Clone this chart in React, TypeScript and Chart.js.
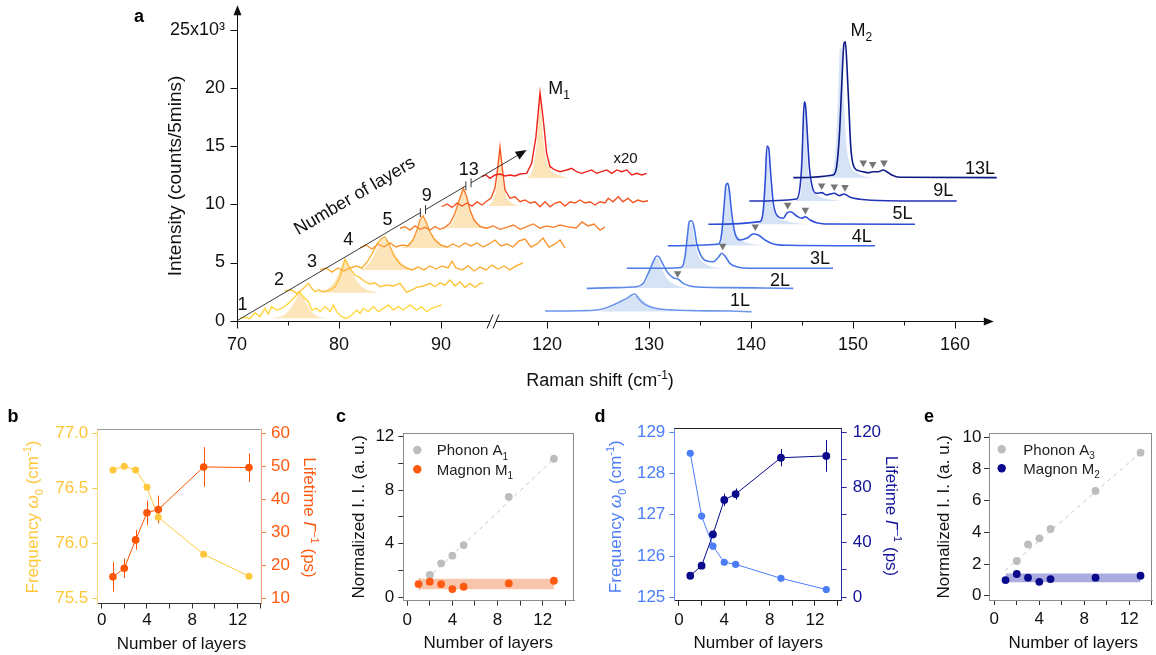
import React, { useEffect, useRef } from 'react';
import { Chart, registerables } from 'chart.js';

Chart.register(...registerables);

const FONT = '"Liberation Sans", Arial, Helvetica, sans-serif';
Chart.defaults.font.family = FONT;
const PAGE_W = 1156;
const PAGE_H = 655;

type Pt = [number, number];
type Seg = { t: string; sub?: boolean; sup?: boolean; it?: boolean; b?: boolean };

/* ====================== panel a : Raman waterfall ====================== */
// the drawn x axis is broken between 90 and 120 cm-1: values above the break are shifted by BREAK_SHIFT
const BREAK_SHIFT = 19.6;
const toAxis = (r: number) => (r > 100 ? r - BREAK_SHIFT : r);
const toReal = (v: number) => (v > 95.5 ? v + BREAK_SHIFT : v);
const A_X_TICKS = [70, 75, 80, 85, 90, 120, 125, 130, 135, 140, 145, 150, 155, 160];
const A_Y_TICKS = [0, 5, 10, 15, 20, 25];
const LAYER_NAMES = ['1', '2', '3', '4', '5', '9', '13'];
const BLUE_NAMES = ['1L', '2L', '3L', '4L', '5L', '9L', '13L'];

// low-frequency (M1) spectra, x = position on the drawn axis, y = 10^3 counts (with waterfall offset)
const SPEC_O1: Pt[] = [[70.29,0.20],[70.78,0.29],[71.27,0.20],[71.76,0.69],[72.25,0.35],[72.75,1.06],[73.07,0.58],[73.40,1.21],[73.89,0.92],[74.38,1.06],[74.87,1.35],[75.36,1.78],[75.85,2.21],[76.18,2.41],[76.50,2.06],[76.99,1.63],[77.32,0.92],[77.81,1.06],[78.14,0.78],[78.63,1.21],[79.12,0.78],[79.44,1.35],[79.77,0.78],[80.26,0.35],[80.75,0.20],[81.24,0.49],[81.73,0.92],[82.06,0.63],[82.39,1.06],[82.88,0.78],[83.37,1.21],[83.86,0.78],[84.35,1.06],[84.84,1.35],[85.33,0.92],[85.82,1.21],[86.31,0.92],[86.96,1.35],[87.61,0.92],[88.10,1.21],[88.59,0.78],[89.08,1.06],[89.58,1.21],[90.07,1.35]];
const SPEC_O2: Pt[] = [[74.71,2.58],[75.36,2.64],[75.85,2.35],[76.34,2.64],[76.67,2.92],[76.99,3.21],[77.32,2.78],[77.65,2.49],[77.97,2.64],[78.46,2.49],[79.12,2.64],[79.61,2.92],[80.10,3.78],[80.59,5.27],[81.08,4.50],[81.57,3.90],[82.06,3.70],[82.55,3.35],[83.04,3.15],[83.53,3.26],[84.02,2.92],[84.67,3.06],[85.33,2.98],[85.98,3.21],[86.63,2.45],[87.12,2.62],[87.61,2.86],[88.27,2.98],[88.92,3.21],[89.41,2.92],[89.90,3.26],[90.39,3.06],[90.88,3.49],[91.37,2.98],[91.86,3.35],[92.35,2.86],[92.84,3.21],[93.33,2.86],[93.82,3.21],[94.15,3.21]];
const SPEC_O3: Pt[] = [[78.14,4.36],[78.73,4.53],[79.31,4.18],[79.90,4.53],[80.49,4.27],[81.08,4.53],[81.67,4.70],[82.25,4.53],[82.75,5.04],[83.24,5.73],[83.73,6.59],[84.22,7.10],[84.51,7.19],[84.90,6.59],[85.39,5.56],[85.98,4.87],[86.57,4.53],[87.16,4.36],[87.75,4.61],[88.33,4.36],[88.92,4.70],[89.51,4.44],[90.10,4.70],[90.69,4.53],[91.08,5.12],[91.47,4.53],[92.06,4.36],[92.65,4.70],[93.24,4.27],[93.82,4.61],[94.41,4.36],[95.00,4.78],[95.59,4.44],[96.18,4.70],[96.76,4.36],[97.35,4.70],[98.04,4.96]];
const SPEC_O4: Pt[] = [[82.06,6.25],[82.65,6.50],[83.24,6.16],[83.82,6.59],[84.41,6.33],[85.00,6.68],[85.59,6.33],[86.18,6.50],[86.76,6.42],[87.25,6.93],[87.65,7.79],[87.94,8.65],[88.24,9.00],[88.53,8.48],[88.92,7.62],[89.41,6.93],[90.00,6.50],[90.59,6.33],[91.18,6.59],[91.76,6.33],[92.35,6.68],[92.94,6.42],[93.53,6.68],[94.12,6.33],[94.71,6.59],[95.29,6.93],[95.88,6.42],[96.47,6.59],[97.06,6.33],[97.65,6.85],[98.24,7.02],[98.82,6.33],[99.41,6.59],[100.00,7.10],[100.59,6.33],[101.18,6.59],[101.67,6.93],[102.16,6.25]];
const SPEC_O5: Pt[] = [[85.98,7.94],[86.47,8.08],[86.96,7.79],[87.45,8.14],[87.94,7.85],[88.43,8.02],[88.92,7.79],[89.41,8.08],[89.90,7.85],[90.39,8.02],[90.88,8.37],[91.37,9.23],[91.79,10.37],[92.19,11.37],[92.52,10.65],[92.84,9.51],[93.24,8.65],[93.82,8.08],[94.48,7.94],[95.13,8.14],[95.78,7.85],[96.44,8.02],[97.09,8.22],[97.75,7.85],[98.40,8.08],[99.05,8.31],[99.71,7.94],[100.36,8.14],[101.01,8.02],[101.67,8.22],[102.32,8.08],[103.24,7.96],[103.82,8.48],[104.41,8.14],[105.00,8.31],[105.59,7.79],[106.08,8.05]];
const SPEC_O9: Pt[] = [[90.07,9.79],[90.59,10.03],[91.08,9.73],[91.57,10.11],[92.06,9.85],[92.55,10.11],[93.04,9.85],[93.53,10.20],[94.02,9.94],[94.51,10.28],[94.90,10.54],[95.29,11.40],[95.54,12.95],[95.78,14.90],[96.03,12.95],[96.27,11.23],[96.76,10.52],[97.25,10.65],[97.75,10.22],[98.24,10.37],[98.73,10.11],[99.22,10.22],[99.71,9.79],[100.20,10.22],[100.69,9.79],[101.18,10.11],[101.67,10.22],[102.16,9.85],[102.65,10.22],[103.14,10.11],[103.63,10.37],[104.12,10.11],[104.61,10.22],[105.10,9.94],[105.59,10.22],[106.08,10.11],[106.40,10.52],[106.86,10.22],[107.38,10.65],[107.84,10.22],[108.33,10.52],[108.82,10.14],[109.31,10.37],[109.80,10.22],[110.29,10.31]];
const SPEC_O13: Pt[] = [[93.99,12.37],[94.41,12.52],[94.80,12.23],[95.29,12.52],[95.78,12.60],[96.27,12.43],[96.76,12.52],[97.25,12.43],[97.75,12.60],[98.40,12.66],[98.89,13.52],[99.31,15.81],[99.71,19.59],[100.03,17.24],[100.36,14.38],[100.69,13.23],[101.18,12.95],[101.67,12.80],[102.32,12.95],[102.81,13.09],[103.30,12.80],[103.79,12.66],[104.28,12.80],[104.77,12.95],[105.26,12.66],[105.75,12.80],[106.24,12.95],[106.74,12.66],[107.23,12.95],[107.72,12.80],[108.21,12.95],[108.70,12.52],[109.19,12.66],[109.68,12.52],[110.17,12.66]];

// M1 fitted peaks (shaded)
const FIT_O1: Pt[] = [[73.56,0.29],[74.54,0.49],[75.20,1.06],[75.69,1.78],[76.01,2.27],[76.24,2.35],[76.50,2.06],[76.83,1.49],[77.32,0.78],[77.97,0.40],[78.79,0.26],[79.77,0.20]];
const FIT_O2: Pt[] = [[77.48,2.41],[78.79,2.69],[79.61,3.49],[80.10,4.50],[80.49,5.21],[80.75,5.21],[81.14,4.50],[81.73,3.49],[82.39,2.86],[83.37,2.55],[84.02,2.41]];
const FIT_O3: Pt[] = [[81.57,4.36],[82.55,4.61],[83.24,5.38],[83.82,6.42],[84.31,7.02],[84.71,7.02],[85.20,6.25],[85.78,5.38],[86.47,4.78],[87.45,4.44],[88.92,4.36]];
const FIT_O4: Pt[] = [[85.49,6.25],[86.47,6.42],[87.16,6.93],[87.75,7.96],[88.04,8.74],[88.43,8.74],[88.82,7.96],[89.41,7.10],[90.10,6.59],[91.08,6.33],[92.84,6.25]];
const FIT_O5: Pt[] = [[89.90,7.96],[90.88,8.22],[91.37,9.08],[91.76,10.20],[92.06,11.14],[92.35,11.14],[92.65,10.20],[93.04,9.08],[93.63,8.39],[94.61,8.05],[96.27,7.96]];
const FIT_O9: Pt[] = [[94.31,9.85],[94.80,10.03],[95.20,10.71],[95.49,12.26],[95.69,14.49],[95.88,14.49],[96.08,12.26],[96.37,10.80],[96.76,10.28],[97.55,9.94],[98.73,9.85]];
const FIT_O13: Pt[] = [[97.94,12.26],[98.73,12.52],[99.12,13.81],[99.41,15.96],[99.61,19.13],[99.80,19.13],[100.00,16.38],[100.29,14.23],[100.69,13.12],[101.67,12.52],[103.14,12.26],[104.12,12.26]];
const FIT_O_BASE = [0.20, 2.41, 4.36, 6.25, 7.96, 9.85, 12.26];

// high-frequency (M2) spectra, x on the drawn axis (beyond the break)
const SPEC_B1: Pt[] = [[100.20,0.83],[101.99,0.83],[103.63,0.86],[105.26,0.92],[106.25,1.12],[106.89,1.35],[107.55,1.63],[108.21,1.92],[108.70,2.21],[109.02,2.29],[109.34,1.92],[109.83,1.49],[110.49,1.20],[111.47,1.01],[112.77,0.92],[115.07,0.86],[118.33,0.83],[120.46,0.77]];
const SPEC_B2: Pt[] = [[104.28,2.78],[106.89,2.84],[109.19,2.92],[109.83,3.21],[110.32,4.07],[110.81,5.07],[111.15,5.56],[111.40,5.45],[111.79,4.79],[112.28,4.07],[112.77,3.69],[113.26,3.56],[113.75,3.21],[114.41,2.98],[115.72,2.87],[118.33,2.84],[121.60,2.81],[124.54,2.78]];
const SPEC_B3: Pt[] = [[108.21,4.50],[111.79,4.50],[113.60,4.59],[113.92,5.50],[114.15,7.22],[114.34,8.51],[114.58,8.59],[114.80,8.08],[115.07,6.65],[115.46,5.64],[116.05,5.13],[116.70,5.07],[117.19,5.45],[117.52,5.79],[117.84,5.56],[118.33,4.93],[118.99,4.64],[120.29,4.50],[128.43,4.50]];
const SPEC_B4: Pt[] = [[112.23,6.44],[117.19,6.59],[117.52,7.51],[117.75,9.79],[117.94,11.66],[118.11,11.80],[118.26,11.23],[118.50,9.23],[118.82,7.51],[119.31,6.93],[119.97,7.08],[120.62,7.45],[121.11,7.36],[121.76,6.93],[122.58,6.59],[123.89,6.48],[132.55,6.44]];
const SPEC_B5: Pt[] = [[116.21,8.28],[121.27,8.51],[121.60,9.51],[121.79,12.09],[121.96,15.01],[122.13,14.81],[122.32,12.66],[122.58,10.09],[123.07,8.93],[123.56,8.80],[123.89,9.23],[124.28,9.36],[124.87,8.99],[125.36,8.80],[125.72,8.93],[126.18,8.65],[126.83,8.42],[128.14,8.31],[136.47,8.28]];
const SPEC_B9: Pt[] = [[120.23,10.28],[124.87,10.46],[125.20,11.51],[125.39,13.81],[125.52,17.24],[125.62,18.81],[125.75,18.38],[125.91,16.10],[126.11,13.23],[126.44,11.37],[126.83,10.95],[127.32,11.00],[127.81,10.80],[128.56,10.95],[129.05,10.74],[129.51,10.89],[130.10,10.60],[131.08,10.43],[133.70,10.31],[140.56,10.28]];
const SPEC_B13: Pt[] = [[124.54,12.29],[128.46,12.52],[128.79,13.23],[129.05,15.81],[129.28,20.10],[129.51,23.83],[129.64,23.97],[129.77,22.40],[129.97,18.68],[130.17,14.95],[130.42,13.38],[130.91,12.89],[131.40,12.80],[131.89,12.71],[132.38,12.80],[132.87,12.80],[133.36,12.95],[133.70,12.80],[134.19,12.52],[135.00,12.32],[144.48,12.29]];

const FIT_B1: Pt[] = [[105.26,0.79],[106.25,1.01],[107.23,1.43],[108.21,1.91],[108.82,2.16],[109.22,2.16],[109.80,1.78],[110.49,1.35],[111.47,1.01],[112.94,0.83],[114.41,0.79]];
const FIT_B2: Pt[] = [[106.86,2.81],[109.19,2.90],[110.00,3.32],[110.49,4.36],[110.98,5.39],[111.27,5.39],[111.67,4.53],[112.16,3.67],[112.94,3.15],[114.41,2.85],[117.35,2.81]];
const FIT_B3: Pt[] = [[111.47,4.48],[113.43,4.61],[113.82,5.39],[114.12,6.93],[114.36,8.31],[114.61,8.31],[114.90,6.93],[115.29,5.56],[115.88,4.96],[116.86,4.61],[118.82,4.48]];
const FIT_B4: Pt[] = [[115.88,6.46],[117.16,6.59],[117.45,7.28],[117.75,9.51],[117.94,11.40],[118.24,11.40],[118.43,9.51],[118.73,7.96],[119.31,7.10],[120.29,6.67],[122.25,6.46]];
const FIT_B5: Pt[] = [[120.78,8.31],[121.27,8.48],[121.57,9.34],[121.76,11.66],[121.91,14.66],[122.11,14.66],[122.25,12.52],[122.45,10.37],[122.84,9.17],[123.73,8.65],[125.20,8.39],[126.67,8.28]];
const FIT_B9: Pt[] = [[124.31,10.28],[125.20,10.80],[125.39,12.95],[125.54,16.81],[125.69,18.53],[125.83,16.81],[125.98,13.81],[126.27,11.66],[126.96,10.80],[128.14,10.46],[130.10,10.28]];
const FIT_B13: Pt[] = [[127.75,12.29],[128.33,12.77],[128.63,14.66],[128.87,18.96],[129.07,23.43],[129.31,23.43],[129.51,19.82],[129.75,15.52],[130.10,13.54],[130.88,12.68],[132.16,12.35],[133.63,12.29]];
const FIT_B_BASE = [0.79, 2.81, 4.48, 6.46, 8.28, 10.28, 12.29];

// grey triangles marking weak satellite peaks
const MARKERS: Pt[] = [[113.20,4.07],[117.62,6.42],[120.81,8.08],[123.99,9.94],[125.72,9.51],[127.32,11.60],[128.56,11.51],[129.61,11.46],[131.40,13.57],[132.32,13.44],[133.43,13.57]];

const LAYER_LABEL_POS: Pt[] = [[70.54,1.48],[74.12,3.63],[77.35,5.21],[80.91,7.08],[84.75,8.80],[88.60,10.80],[92.73,13.09]];
const BLUE_LABEL_POS: Pt[] = [[119.31,1.78],[123.24,3.58],[127.16,5.43],[131.25,7.32],[135.25,9.32],[139.25,11.25],[142.84,13.20]];
const LAYER_ARROW: Pt[] = [[70, 0], [98.40, 14.66]];
const LAYER_ARROW_BREAKS = [0.642, 0.799];
const LAYER_TITLE_POS: Pt = [81.47, 10.80];
const M1_LABEL_POS: Pt = [101.57, 20.07];
const M2_LABEL_POS: Pt = [131.2, 25.05];
const X20_LABEL_POS: Pt = [108.09, 13.98];

const ORANGE = ['#FFD640', '#FDC43A', '#FBAF36', '#F99830', '#F67E2A', '#F35322', '#EF1F1A'];
const BLUE = ['#6E96EB', '#5B88EA', '#4B79E8', '#3A63E3', '#2D4DD8', '#1F34B8', '#0D1A85'];

/* ====================== panels b - e ====================== */
const LAYERS = [1, 2, 3, 4, 5, 9, 13];
const PHONON_LAYERS = [2, 3, 4, 5, 9, 13];
const M1_FREQ = [76.667, 76.70, 76.667, 76.51, 76.236, 75.90, 75.70];
const M1_FREQ_ERR = [0.03, 0.025, 0.025, 0.02, 0.02, 0, 0];
const M1_LIFE = [16.5, 19.1, 27.7, 35.9, 36.9, 49.8, 49.6];
const M1_LIFE_ERR = [4.5, 3.0, 3.0, 3.7, 4.2, 6.0, 4.3];
const A1_II = [1.67, 2.54, 3.11, 3.90, 7.50, 10.34];
const M1_II = [0.99, 1.17, 0.99, 0.62, 0.79, 1.04, 1.24];
const M1_II_ERR = [0.45, 0.35, 0.1, 0.1, 0.1, 0.1, 0.1];
const A1_FIT: Pt[] = [[1.27, 0.99], [13, 10.34]];
const M1_BAND_X = [1, 13];
const M1_BAND_Y = [0.60, 1.39];
const M2_FREQ = [128.49, 126.97, 126.24, 125.85, 125.80, 125.46, 125.19];
const M2_LIFE = [15.7, 23.0, 45.8, 70.8, 75.1, 101.5, 102.8];
const M2_LIFE_ERR = [1.5, 2.5, 3.0, 4.5, 4.0, 6.3, 11.5];
const A3_II = [2.19, 3.24, 3.62, 4.21, 6.61, 9.03];
const M2_II = [0.99, 1.37, 1.14, 0.88, 1.05, 1.14, 1.26];
const A3_FIT: Pt[] = [[0.95, 1.58], [13, 9.03]];
const M2_BAND_X = [1, 13];
const M2_BAND_Y = [0.85, 1.41];
const LAYER_TICKS = [0, 2, 4, 6, 8, 10, 12, 14];

/* ====================== helpers ====================== */
function drawRich(ctx: CanvasRenderingContext2D, segs: Seg[], x: number, y: number, size: number, color: string, rot = 0, align: 'left' | 'center' | 'right' = 'center') {
  const font = (s: Seg) => `${s.it ? 'italic ' : ''}${s.b ? 'bold ' : ''}${s.sub || s.sup ? Math.round(size * 0.66) : size}px ${FONT}`;
  ctx.save();
  ctx.translate(x, y);
  if (rot) ctx.rotate(rot);
  ctx.fillStyle = color;
  ctx.textAlign = 'left';
  ctx.textBaseline = 'alphabetic';
  const widths = segs.map((s) => { ctx.font = font(s); return ctx.measureText(s.t).width; });
  const total = widths.reduce((a, b) => a + b, 0);
  let cx = align === 'center' ? -total / 2 : align === 'right' ? -total : 0;
  const base = size * 0.36;
  segs.forEach((s, i) => {
    ctx.font = font(s);
    const dy = s.sub ? size * 0.3 : s.sup ? -size * 0.42 : 0;
    ctx.fillText(s.t, cx, base + dy);
    cx += widths[i];
  });
  ctx.restore();
}

// give a scale a fixed thickness and no label overflow padding, so the plot area lands exactly where wanted
const fitFixed = (dim: 'width' | 'height', size: number) => (s: any) => {
  s[dim] = size;
  s.paddingLeft = 0; s.paddingRight = 0; s.paddingTop = 0; s.paddingBottom = 0;
};
const pts = (a: Pt[]) => a.map(([x, y]) => ({ x, y }));
const zip = (xs: number[], ys: number[]) => xs.map((x, i) => ({ x, y: ys[i] }));

const FREQ_TITLE: Seg[] = [{ t: 'Frequency ' }, { t: 'ω', it: true }, { t: '0', sub: true }, { t: ' (cm' }, { t: '-1', sup: true }, { t: ')' }];
const LIFE_TITLE: Seg[] = [{ t: 'Lifetime ' }, { t: 'Γ', it: true }, { t: '−1', sup: true }, { t: ' (ps)' }];
const II_TITLE: Seg[] = [{ t: 'Normalized I. I. (a. u.)' }];
const NL_TITLE: Seg[] = [{ t: 'Number of layers' }];

type Area = { l: number; t: number; r: number; b: number };

function baseOptions(padding: any, scales: any) {
  return {
    responsive: false,
    maintainAspectRatio: false,
    animation: false,
    devicePixelRatio: 1,
    events: [],
    layout: { padding, autoPadding: false },
    plugins: { legend: { display: false }, tooltip: { enabled: false }, title: { display: false } },
    scales,
  };
}

/* ====================== panel a config ====================== */
function panelA(): any {
  const ORANGE_SPECTRA = [SPEC_O1, SPEC_O2, SPEC_O3, SPEC_O4, SPEC_O5, SPEC_O9, SPEC_O13];
  const ORANGE_FITS = [FIT_O1, FIT_O2, FIT_O3, FIT_O4, FIT_O5, FIT_O9, FIT_O13];
  const BLUE_SPECTRA = [SPEC_B1, SPEC_B2, SPEC_B3, SPEC_B4, SPEC_B5, SPEC_B9, SPEC_B13];
  const BLUE_FITS = [FIT_B1, FIT_B2, FIT_B3, FIT_B4, FIT_B5, FIT_B9, FIT_B13];
  const datasets: any[] = [];
  ORANGE_FITS.forEach((f, i) => datasets.push({
    data: pts(f), borderColor: 'rgba(255,255,255,0.95)', borderWidth: 1, backgroundColor: '#FCE5BA',
    fill: { value: FIT_O_BASE[i] }, pointRadius: 0, cubicInterpolationMode: 'monotone', order: 400 - i,
  }));
  BLUE_FITS.forEach((f, i) => datasets.push({
    data: pts(f), borderColor: 'rgba(255,255,255,0.95)', borderWidth: 1, backgroundColor: '#D6E3F7',
    fill: { value: FIT_B_BASE[i] }, pointRadius: 0, cubicInterpolationMode: 'monotone', order: 300 - i,
  }));
  ORANGE_SPECTRA.forEach((s, i) => datasets.push({
    data: pts(s), borderColor: ORANGE[i], borderWidth: 1.4, fill: false, pointRadius: 0, tension: 0, order: 200 - i,
  }));
  BLUE_SPECTRA.forEach((s, i) => datasets.push({
    data: pts(s), borderColor: BLUE[i], borderWidth: 1.6, fill: false, pointRadius: 0, cubicInterpolationMode: 'monotone', order: 100 - i,
  }));
  datasets.push({
    data: pts(MARKERS), showLine: false, pointStyle: 'triangle', pointRotation: 180, pointRadius: 4.4,
    pointBackgroundColor: '#767676', pointBorderWidth: 0, order: 0,
  });

  const area: Area = { l: 237, t: 320.7 - 27.3 * 11.64, r: 1002, b: 320.7 };
  const scales = {
    x: {
      type: 'linear', position: 'bottom', min: 70, max: 145, bounds: 'data',
      afterFit: fitFixed('height', PAGE_H - area.b),
      afterBuildTicks: (s: any) => { s.ticks = A_X_TICKS.map((r) => ({ value: toAxis(r) })); },
      grid: { display: false, drawTicks: false }, border: { display: false },
      ticks: {
        padding: 13.5, color: '#111', font: { family: FONT, size: 18 }, autoSkip: false, maxRotation: 0, minRotation: 0,
        callback: (v: number) => { const r = Math.round(toReal(v)); return r % 10 === 0 ? String(r) : ''; },
      },
    },
    y: {
      type: 'linear', position: 'left', min: 0, max: 27.3, bounds: 'data',
      afterFit: fitFixed('width', area.l),
      afterBuildTicks: (s: any) => { s.ticks = A_Y_TICKS.map((v) => ({ value: v })); },
      grid: { display: false, drawTicks: false }, border: { display: false },
      ticks: { padding: 12, color: '#111', font: { family: FONT, size: 18 }, callback: (v: number) => (v === 25 ? '25x10³' : String(v)) },
    },
  };

  const decor = {
    id: 'panelADecor',
    afterDraw(chart: any) {
      const ctx = chart.ctx as CanvasRenderingContext2D;
      const xs = chart.scales.x, ys = chart.scales.y;
      const X = (v: number) => xs.getPixelForValue(v);
      const Y = (v: number) => ys.getPixelForValue(v);
      const seg = (x1: number, y1: number, x2: number, y2: number) => { ctx.beginPath(); ctx.moveTo(x1, y1); ctx.lineTo(x2, y2); ctx.stroke(); };
      const tri = (a: number, b: number, c: number, d: number, e: number, f: number) => { ctx.beginPath(); ctx.moveTo(a, b); ctx.lineTo(c, d); ctx.lineTo(e, f); ctx.closePath(); ctx.fill(); };
      ctx.save();
      ctx.strokeStyle = '#111'; ctx.fillStyle = '#111'; ctx.lineWidth = 1;
      const ox = Math.round(X(70)) + 0.5, oy = Math.round(Y(0)) + 0.5;
      // y axis with arrow
      const yTip = Y(27.1);
      seg(ox, oy, ox, yTip + 8);
      tri(ox, yTip, ox - 4, yTip + 10, ox + 4, yTip + 10);
      // x axis with break and arrow
      const xTip = X(144.2);
      const bx = X(95.1);
      seg(ox, oy, bx - 3, oy); seg(bx + 3, oy, xTip - 8, oy);
      tri(xTip, oy, xTip - 10, oy - 4, xTip - 10, oy + 4);
      [-3, 3].forEach((d) => seg(bx + d - 3, oy + 7, bx + d + 3, oy - 7));
      A_X_TICKS.forEach((r) => { const x = Math.round(X(toAxis(r))) + 0.5; seg(x, oy, x, oy + (r % 10 === 0 ? 7 : 4)); });
      A_Y_TICKS.forEach((v) => { const y = Math.round(Y(v)) + 0.5; seg(ox - 7, y, ox, y); });

      // number-of-layers arrow
      ctx.lineWidth = 0.9; ctx.strokeStyle = '#222'; ctx.fillStyle = '#111';
      const a0x = X(LAYER_ARROW[0][0]), a0y = Y(LAYER_ARROW[0][1]);
      const a1x = X(LAYER_ARROW[1][0]), a1y = Y(LAYER_ARROW[1][1]);
      const dx = a1x - a0x, dy = a1y - a0y, L = Math.hypot(dx, dy), ux = dx / L, uy = dy / L;
      let prev = 0;
      LAYER_ARROW_BREAKS.forEach((t) => {
        const c = t * L;
        seg(a0x + ux * prev, a0y + uy * prev, a0x + ux * (c - 3), a0y + uy * (c - 3));
        [c - 3, c + 3].forEach((s) => { const px = a0x + ux * s, py = a0y + uy * s; seg(px, py - 4.5, px, py + 4.5); });
        prev = c + 3;
      });
      seg(a0x + ux * prev, a0y + uy * prev, a1x - ux * 8, a1y - uy * 8);
      const hbx = a1x - ux * 11, hby = a1y - uy * 11;
      tri(a1x, a1y, hbx - uy * 4.5, hby + ux * 4.5, hbx + uy * 4.5, hby - ux * 4.5);
      const ang = Math.atan2(dy, dx);
      drawRich(ctx, [{ t: 'Number of layers' }], X(LAYER_TITLE_POS[0]), Y(LAYER_TITLE_POS[1]), 18, '#111', ang);

      LAYER_NAMES.forEach((n, i) => drawRich(ctx, [{ t: n }], X(LAYER_LABEL_POS[i][0]), Y(LAYER_LABEL_POS[i][1]), 18, '#111'));
      BLUE_NAMES.forEach((n, i) => drawRich(ctx, [{ t: n }], X(BLUE_LABEL_POS[i][0]), Y(BLUE_LABEL_POS[i][1]), 18, '#111'));
      drawRich(ctx, [{ t: 'M' }, { t: '1', sub: true }], X(M1_LABEL_POS[0]), Y(M1_LABEL_POS[1]), 18, '#111');
      drawRich(ctx, [{ t: 'M' }, { t: '2', sub: true }], X(M2_LABEL_POS[0]), Y(M2_LABEL_POS[1]), 18, '#111');
      drawRich(ctx, [{ t: 'x20' }], X(X20_LABEL_POS[0]), Y(X20_LABEL_POS[1]), 15, '#111');

      drawRich(ctx, [{ t: 'Intensity (counts/5mins)' }], 174.5, 176, 19, '#111', -Math.PI / 2);
      drawRich(ctx, [{ t: 'Raman shift (cm' }, { t: '-1', sup: true }, { t: ')' }], 600, 380, 18, '#111');
      drawRich(ctx, [{ t: 'a', b: true }], 139, 16, 18, '#000');
      ctx.restore();
    },
  };
  const padding = { left: 0, top: area.t, right: PAGE_W - area.r, bottom: 0 };
  return { type: 'line', data: { datasets }, options: baseOptions(padding, scales), plugins: [decor] };
}

/* ====================== bottom panel builder ====================== */
interface AxisSpec { min: number; max: number; ticks: number[]; label: (v: number) => string; color: string; border: string; tick: string; pad: number; }
interface TitleSpec { segs: Seg[]; x: number; y: number; color: string; rot: number; }
interface LegendSpec { segs: Seg[]; color: string; y: number; }
interface PanelSpec {
  area: Area;
  x: AxisSpec; y: AxisSpec; y1?: AxisSpec;
  datasets: any[];
  frameTop: string; frameRight?: string;
  titles: TitleSpec[];
  legend?: { dotX: number; textX: number; items: LegendSpec[] };
  letter: { t: string; x: number; y: number };
}

function axis(a: AxisSpec, position: string, thickness: number): any {
  const horizontal = position === 'bottom';
  return {
    type: 'linear', position, min: a.min, max: a.max, bounds: 'data',
    afterFit: fitFixed(horizontal ? 'height' : 'width', thickness),
    afterBuildTicks: (s: any) => { s.ticks = a.ticks.map((v) => ({ value: v })); },
    grid: { display: true, drawOnChartArea: false, drawTicks: true, tickLength: 5, color: a.tick, tickColor: a.tick, lineWidth: 1 },
    border: { display: true, color: a.border, width: 1 },
    ticks: { padding: a.pad, color: a.color, font: { family: FONT, size: 17 }, autoSkip: false, maxRotation: 0, minRotation: 0, callback: (v: number) => a.label(v) },
  };
}

function buildPanel(p: PanelSpec): any {
  const scales: any = {
    x: axis(p.x, 'bottom', PAGE_H - p.area.b),
    y: axis(p.y, 'left', p.area.l),
  };
  if (p.y1) scales.y1 = axis(p.y1, 'right', PAGE_W - p.area.r);
  const padding = { left: 0, top: p.area.t, bottom: 0, right: p.y1 ? 0 : PAGE_W - p.area.r };
  const decor = {
    id: 'decor_' + p.letter.t,
    beforeDatasetsDraw(chart: any) {
      const ctx = chart.ctx as CanvasRenderingContext2D;
      chart.data.datasets.forEach((ds: any, i: number) => {
        if (!ds.errY) return;
        const meta = chart.getDatasetMeta(i);
        const xs = chart.scales[meta.xAxisID], ys = chart.scales[meta.yAxisID];
        ctx.save();
        ctx.strokeStyle = ds.borderColor; ctx.lineWidth = 1;
        ds.data.forEach((pt: any, j: number) => {
          const e = ds.errY[j];
          if (!e) return;
          const x = Math.round(xs.getPixelForValue(pt.x)) + 0.5;
          ctx.beginPath(); ctx.moveTo(x, ys.getPixelForValue(pt.y - e)); ctx.lineTo(x, ys.getPixelForValue(pt.y + e)); ctx.stroke();
        });
        ctx.restore();
      });
    },
    afterDraw(chart: any) {
      const ctx = chart.ctx as CanvasRenderingContext2D;
      const { left, right, top, bottom } = chart.chartArea;
      ctx.save();
      ctx.lineWidth = 1;
      ctx.strokeStyle = p.frameTop;
      const ty = Math.round(top) + 0.5;
      ctx.beginPath(); ctx.moveTo(left, ty); ctx.lineTo(right, ty); ctx.stroke();
      if (p.frameRight) {
        const rx = Math.round(right) - 0.5;
        ctx.strokeStyle = p.frameRight;
        ctx.beginPath(); ctx.moveTo(rx, top); ctx.lineTo(rx, bottom); ctx.stroke();
      }
      p.titles.forEach((t) => drawRich(ctx, t.segs, t.x, t.y, 17, t.color, t.rot));
      if (p.legend) {
        const lg = p.legend;
        lg.items.forEach((it) => {
          ctx.fillStyle = it.color;
          ctx.beginPath(); ctx.arc(lg.dotX, it.y, 4.2, 0, Math.PI * 2); ctx.fill();
          drawRich(ctx, it.segs, lg.textX, it.y, 15, '#222', 0, 'left');
        });
      }
      drawRich(ctx, [{ t: p.letter.t, b: true }], p.letter.x, p.letter.y, 18, '#000');
      ctx.restore();
    },
  };
  return { type: 'line', data: { datasets: p.datasets }, options: baseOptions(padding, scales), plugins: [decor] };
}

const every4 = (v: number) => (v % 4 === 0 ? String(v) : '');

function panelB() {
  const YEL = '#FFC83C', ORG = '#FF5500';
  return buildPanel({
    area: { l: 97.3, t: 429.3, r: 261, b: 603.5 },
    x: { min: -0.38, max: 14.06, ticks: LAYER_TICKS, label: every4, color: '#111', border: '#333', tick: '#333', pad: 2 },
    y: { min: 75.453, max: 77.036, ticks: [75.5, 76.0, 76.5, 77.0], label: (v) => v.toFixed(1), color: '#FFC63A', border: '#FDD77E', tick: '#FCC84A', pad: 4 },
    y1: { min: 8.43, max: 61.2, ticks: [10, 20, 30, 40, 50, 60], label: (v) => String(v), color: '#FF5A12', border: '#F9A27C', tick: '#F98048', pad: 5 },
    datasets: [
      { data: zip(LAYERS, M1_LIFE), errY: M1_LIFE_ERR, yAxisID: 'y1', borderColor: ORG, borderWidth: 1, pointRadius: 3.8, pointBackgroundColor: ORG, pointBorderWidth: 0, fill: false, tension: 0, order: 1 },
      { data: zip(LAYERS, M1_FREQ), errY: M1_FREQ_ERR, yAxisID: 'y', borderColor: YEL, borderWidth: 1, pointRadius: 3.5, pointBackgroundColor: YEL, pointBorderWidth: 0, fill: false, tension: 0, order: 2 },
    ],
    frameTop: '#9a9a9a',
    titles: [
      { segs: FREQ_TITLE, x: 31.7, y: 517, color: '#FFC63A', rot: -Math.PI / 2 },
      { segs: LIFE_TITLE, x: 310, y: 517.5, color: '#FF5A12', rot: Math.PI / 2 },
      { segs: NL_TITLE, x: 181.5, y: 643, color: '#111', rot: 0 },
    ],
    letter: { t: 'b', x: 13, y: 416 },
  });
}

function panelC() {
  const GRAY = '#BDBDBD', ORG = '#FF5A10';
  return buildPanel({
    area: { l: 403.3, t: 433.3, r: 574, b: 600.7 },
    x: { min: -0.35, max: 14.78, ticks: LAYER_TICKS, label: every4, color: '#111', border: '#8c8c8c', tick: '#333', pad: 4.5 },
    y: { min: -0.25, max: 12.24, ticks: [0, 2, 4, 6, 8, 10, 12], label: every4, color: '#111', border: '#8c8c8c', tick: '#333', pad: 4 },
    datasets: [
      { data: zip(M1_BAND_X, [M1_BAND_Y[1], M1_BAND_Y[1]]), borderWidth: 0, borderColor: 'rgba(0,0,0,0)', backgroundColor: '#F9C6AC', fill: { value: M1_BAND_Y[0] }, pointRadius: 0, order: 10 },
      { data: pts(A1_FIT), borderColor: '#C6C6C6', borderWidth: 1, borderDash: [4, 4], pointRadius: 0, fill: false, order: 9 },
      { data: zip(PHONON_LAYERS, A1_II), showLine: false, borderColor: GRAY, pointRadius: 3.9, pointBackgroundColor: GRAY, pointBorderWidth: 0, order: 2 },
      { data: zip(LAYERS, M1_II), errY: M1_II_ERR, showLine: false, borderColor: ORG, pointRadius: 3.9, pointBackgroundColor: ORG, pointBorderWidth: 0, order: 1 },
    ],
    frameTop: '#8c8c8c', frameRight: '#8c8c8c',
    titles: [
      { segs: II_TITLE, x: 358.3, y: 516.7, color: '#111', rot: -Math.PI / 2 },
      { segs: NL_TITLE, x: 488.3, y: 641.7, color: '#111', rot: 0 },
    ],
    legend: {
      dotX: 417.3, textX: 436.7, items: [
        { segs: [{ t: 'Phonon A' }, { t: '1', sub: true }], color: GRAY, y: 450 },
        { segs: [{ t: 'Magnon M' }, { t: '1', sub: true }], color: ORG, y: 469.3 },
      ],
    },
    letter: { t: 'c', x: 341, y: 416 },
  });
}

function panelD() {
  const LB = '#4B7DF7', NAVY = '#0A0A8C';
  return buildPanel({
    area: { l: 674.3, t: 428.3, r: 841.7, b: 600.7 },
    x: { min: -0.41, max: 14.36, ticks: LAYER_TICKS, label: every4, color: '#111', border: '#222', tick: '#222', pad: 4.5 },
    y: { min: 124.918, max: 129.097, ticks: [125, 126, 127, 128, 129], label: (v) => String(v), color: LB, border: '#6E93F5', tick: '#5B86F2', pad: 4 },
    y1: { min: -2.46, max: 122.9, ticks: [0, 20, 40, 60, 80, 100, 120], label: (v) => (v % 40 === 0 ? String(v) : ''), color: '#13139A', border: '#2B2B9E', tick: '#2B2B9E', pad: 6 },
    datasets: [
      { data: zip(LAYERS, M2_LIFE), errY: M2_LIFE_ERR, yAxisID: 'y1', borderColor: NAVY, borderWidth: 1, pointRadius: 3.9, pointBackgroundColor: NAVY, pointBorderWidth: 0, fill: false, tension: 0, order: 1 },
      { data: zip(LAYERS, M2_FREQ), yAxisID: 'y', borderColor: LB, borderWidth: 1, pointRadius: 3.6, pointBackgroundColor: LB, pointBorderWidth: 0, fill: false, tension: 0, order: 2 },
    ],
    frameTop: '#222',
    titles: [
      { segs: FREQ_TITLE, x: 615, y: 516.7, color: LB, rot: -Math.PI / 2 },
      { segs: LIFE_TITLE, x: 892.5, y: 516, color: '#13139A', rot: Math.PI / 2 },
      { segs: NL_TITLE, x: 758.3, y: 641.7, color: '#111', rot: 0 },
    ],
    letter: { t: 'd', x: 600, y: 415.5 },
  });
}

function panelE() {
  const GRAY = '#BDBDBD', NAVY = '#0A0A8C';
  return buildPanel({
    area: { l: 989, t: 433.3, r: 1152, b: 600 },
    x: { min: -0.47, max: 14.02, ticks: LAYER_TICKS, label: every4, color: '#111', border: '#8c8c8c', tick: '#333', pad: 4.5 },
    y: { min: -0.27, max: 10.25, ticks: [0, 2, 4, 6, 8, 10], label: (v) => String(v), color: '#111', border: '#8c8c8c', tick: '#333', pad: 2.5 },
    datasets: [
      { data: zip(M2_BAND_X, [M2_BAND_Y[1], M2_BAND_Y[1]]), borderWidth: 0, borderColor: 'rgba(0,0,0,0)', backgroundColor: '#AAACE0', fill: { value: M2_BAND_Y[0] }, pointRadius: 0, order: 10 },
      { data: pts(A3_FIT), borderColor: '#C6C6C6', borderWidth: 1, borderDash: [4, 4], pointRadius: 0, fill: false, order: 9 },
      { data: zip(PHONON_LAYERS, A3_II), showLine: false, borderColor: GRAY, pointRadius: 3.9, pointBackgroundColor: GRAY, pointBorderWidth: 0, order: 2 },
      { data: zip(LAYERS, M2_II), showLine: false, borderColor: NAVY, pointRadius: 3.9, pointBackgroundColor: NAVY, pointBorderWidth: 0, order: 1 },
    ],
    frameTop: '#8c8c8c', frameRight: '#8c8c8c',
    titles: [
      { segs: II_TITLE, x: 943.3, y: 516.7, color: '#111', rot: -Math.PI / 2 },
      { segs: NL_TITLE, x: 1073.3, y: 641.7, color: '#111', rot: 0 },
    ],
    legend: {
      dotX: 1001.7, textX: 1023.3, items: [
        { segs: [{ t: 'Phonon A' }, { t: '3', sub: true }], color: GRAY, y: 449.3 },
        { segs: [{ t: 'Magnon M' }, { t: '2', sub: true }], color: NAVY, y: 468.3 },
      ],
    },
    letter: { t: 'e', x: 929, y: 416 },
  });
}

export default function App() {
  const canvases = useRef<(HTMLCanvasElement | null)[]>([]);
  useEffect(() => {
    const configs = [panelA(), panelB(), panelC(), panelD(), panelE()];
    const charts = configs.map((cfg, i) => new Chart(canvases.current[i] as HTMLCanvasElement, cfg));
    return () => charts.forEach((c) => c.destroy());
  }, []);
  return (
    <div style={{ position: 'absolute', left: 0, top: 0, width: PAGE_W, height: PAGE_H, background: '#fff', overflow: 'hidden' }}>
      {[0, 1, 2, 3, 4].map((i) => (
        <canvas
          key={i}
          ref={(el) => { canvases.current[i] = el; }}
          width={PAGE_W}
          height={PAGE_H}
          style={{ position: 'absolute', left: 0, top: 0 }}
        />
      ))}
    </div>
  );
}
